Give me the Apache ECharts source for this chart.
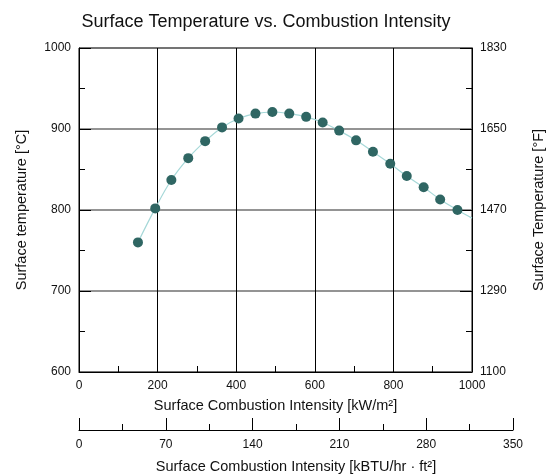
<!DOCTYPE html>
<html>
<head>
<meta charset="utf-8">
<script src="https://cdn.jsdelivr.net/npm/echarts@6/dist/echarts.min.js"></script>
<style>html,body{margin:0;padding:0;background:#fff}#c{width:554px;height:475px}</style>
</head>
<body>
<div id="c"></div>
<script>
// Data
const intensityKW = [150, 194, 235, 278, 321, 364, 406, 449, 492, 535, 578, 620, 662, 705, 748, 792, 834, 877, 919, 963];
const surfaceTempC = [760, 802, 837, 864, 885, 902, 913, 919, 921, 919, 915, 908, 898, 886, 872, 857, 842, 828, 813, 800];
// fitted curve (passes through the points, extends to axis end)
const curveX = [150, 194, 235, 278, 321, 364, 406, 449, 492, 535, 578, 620, 662, 705, 748, 792, 834, 877, 919, 963, 1000];
const curveY = [760, 802, 837, 864, 885, 902, 913, 919, 921, 919, 915, 908, 898, 886, 872, 857, 842, 828, 813, 800, 790];
// Fahrenheit tick labels shown on right axis (for 600..1000 °C)
const fahrenheitLabels = ['1100', '1290', '1470', '1650', '1830'];
const celsiusTicks = [600, 700, 800, 900, 1000];

const font = 'Liberation Sans, Arial, sans-serif';
const chart = echarts.init(document.getElementById('c'), null, {renderer: 'canvas'});

const pts = intensityKW.map((x, i) => [x, surfaceTempC[i]]);
const curve = curveX.map((x, i) => [x, curveY[i]]);
const plain = v => String(Math.round(v));
const nameStyle = {fontFamily: font, fontSize: 14.5, color: '#111'};
const labelStyle = {fontFamily: font, fontSize: 12, color: '#111'};

chart.setOption({
  animation: false,
  backgroundColor: '#fff',
  textStyle: {fontFamily: font},
  title: {
    text: 'Surface Temperature vs. Combustion Intensity',
    left: 261, top: 8, textAlign: 'center',
    textStyle: {fontFamily: font, fontSize: 18, fontWeight: 'normal', color: '#111'}
  },
  grid: [
    {left: 79, right: 80, top: 48, bottom: 103, show: true, borderColor: '#000', borderWidth: 1},
    {left: 79, width: 434, top: 420, height: 12, show: false}
  ],
  xAxis: [
    {
      gridIndex: 0, type: 'value', min: 0, max: 1000, interval: 200,
      name: 'Surface Combustion Intensity [kW/m²]', nameLocation: 'middle', nameGap: 26,
      nameTextStyle: nameStyle,
      axisLine: {show: true, lineStyle: {color: '#000', width: 1}},
      axisTick: {show: true, inside: true, length: 12, lineStyle: {color: '#000'}},
      minorTick: {show: true, splitNumber: 2, length: 6, lineStyle: {color: '#000'}},
      axisLabel: Object.assign({margin: 8, formatter: plain}, labelStyle),
      splitLine: {show: true, lineStyle: {color: '#000', width: 1}}
    },
    {
      gridIndex: 1, type: 'value', min: 0, max: 350, interval: 70, position: 'bottom',
      name: 'Surface Combustion Intensity [kBTU/hr · ft²]', nameLocation: 'middle', nameGap: 29,
      nameTextStyle: nameStyle,
      axisLine: {show: true, lineStyle: {color: '#000', width: 1}},
      axisTick: {show: true, inside: true, length: 12, lineStyle: {color: '#000'}},
      minorTick: {show: true, splitNumber: 2, length: 6, lineStyle: {color: '#000'}},
      axisLabel: Object.assign({margin: 9, formatter: plain}, labelStyle),
      splitLine: {show: false}
    }
  ],
  yAxis: [
    {
      gridIndex: 0, type: 'value', min: 600, max: 1000, interval: 100, position: 'left',
      name: 'Surface temperature [°C]', nameLocation: 'middle', nameGap: 50, nameRotate: 90,
      nameTextStyle: nameStyle,
      axisLine: {show: true, lineStyle: {color: '#000', width: 1}},
      axisTick: {show: true, inside: true, length: 12, lineStyle: {color: '#000'}},
      minorTick: {show: true, splitNumber: 2, length: 6, lineStyle: {color: '#000'}},
      axisLabel: Object.assign({margin: 8, formatter: plain}, labelStyle),
      splitLine: {show: true, lineStyle: {color: '#707070', width: 1.5}}
    },
    {
      gridIndex: 0, type: 'value', min: 600, max: 1000, interval: 100, position: 'right',
      name: 'Surface Temperature [°F]', nameLocation: 'middle', nameGap: 59, nameRotate: 90,
      nameTextStyle: nameStyle,
      axisLine: {show: true, lineStyle: {color: '#000', width: 1}},
      axisTick: {show: true, inside: true, length: 12, lineStyle: {color: '#000'}},
      minorTick: {show: true, splitNumber: 2, length: 6, lineStyle: {color: '#000'}},
      axisLabel: Object.assign({
        margin: 8,
        formatter: v => fahrenheitLabels[celsiusTicks.indexOf(Math.round(v))] || ''
      }, labelStyle),
      splitLine: {show: false}
    },
    {gridIndex: 1, type: 'value', show: false, min: 0, max: 1}
  ],
  series: [
    {
      type: 'line', xAxisIndex: 0, yAxisIndex: 0, data: curve, smooth: 0.4,
      showSymbol: false, symbol: 'none',
      lineStyle: {color: '#a6d8d8', width: 1.2}, z: 2, silent: true
    },
    {
      type: 'scatter', xAxisIndex: 0, yAxisIndex: 0, data: pts,
      symbol: 'circle', symbolSize: 10,
      itemStyle: {color: '#2f6663', opacity: 1}, z: 3
    }
  ]
});
</script>
</body>
</html>
